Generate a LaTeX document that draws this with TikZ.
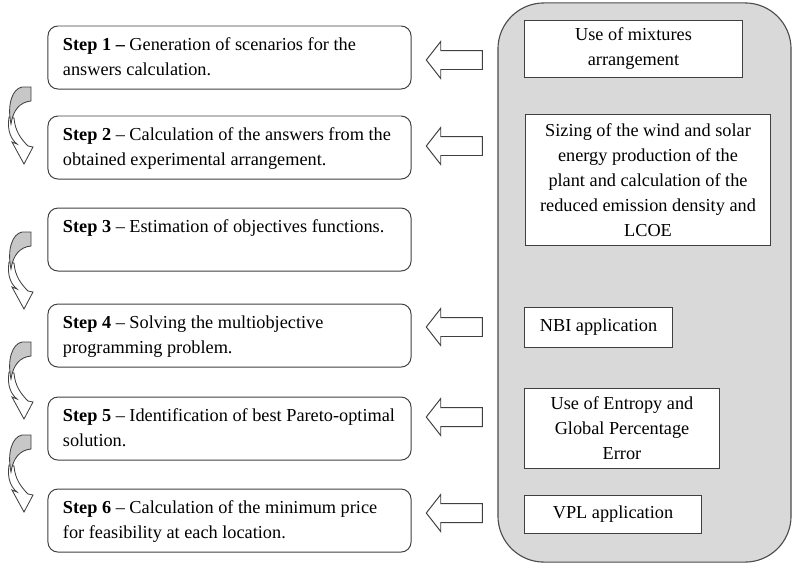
\documentclass[tikz,border=0pt]{standalone}
\usepackage{fontspec}
\setmainfont{Liberation Serif}
\usetikzlibrary{positioning, shapes.arrows}

\newcommand{\steptxt}[1]{\parbox[c][0.975cm][t]{8.325cm}{#1}}

\begin{document}
\begin{tikzpicture}[
    x=0.025cm, y=-0.025cm,
    font=\fontsize{13}{17.8}\selectfont,
    stepbox/.style={rectangle, rounded corners=0.25cm, draw=black!75, line width=0.7pt, fill=white, inner xsep=0.375cm, inner ysep=0.3cm},
    toolbox/.style={rectangle, draw=black!75, line width=0.7pt, fill=white, align=center, inner sep=0pt},
    panel/.style={rectangle, rounded corners=1.15cm, draw=black!70, line width=0.8pt, fill=black!15, minimum width=7.325cm, minimum height=13.975cm},
    feed/.style={single arrow, shape border rotate=180, draw=black!75, line width=0.7pt, fill=white, minimum height=1.4cm, inner xsep=0pt, inner ysep=0.225cm, single arrow head extend=0.225cm, single arrow tip angle=104},
    bendarrow/.pic={
        \filldraw[draw=black!75, line width=0.6pt, fill=white] (9,30) .. controls (7,44) and (11,52) .. (17,57) -- (12,55) -- (24,77) -- (33,60) -- (28,59) .. controls (21,52) and (15,44) .. (14,31) -- cycle;
        \filldraw[draw=black!75, line width=0.6pt, fill=black!22] (31,0) -- (31,14) .. controls (20,15) and (13,23) .. (11,37) .. controls (7,18) and (12,2) .. (22,0) -- cycle;
    }
]
    \useasboundingbox (0,0) rectangle (800,568);

    % right panel with the tools
    \node[panel] (panel) at (644.5,282.5) {};
    \node[toolbox, minimum width=5.425cm, minimum height=1.425cm] (mix) at (633.5,48.5) {Use of mixtures\\arrangement};
    \node[toolbox, minimum width=6.1cm, minimum height=3.25cm] (sizing) at (648,180) {Sizing of the wind and solar\\energy production of the\\plant and calculation of the\\reduced emission density and\\LCOE};
    \node[toolbox, minimum width=3.675cm, minimum height=1cm] (nbi) at (598.5,327) {NBI application};
    \node[toolbox, minimum width=4.85cm, minimum height=2cm] (entropy) at (622,428) {Use of Entropy and\\Global Percentage\\Error};
    \node[toolbox, minimum width=4.4cm, minimum height=0.95cm] (vpl) at (613,514) {VPL application};

    % steps
    \node[stepbox] (s1) at (229.5,57.5) {\steptxt{\textbf{Step 1 –} Generation of scenarios for the\\answers calculation.}};
    \node[stepbox, below=0.65cm of s1] (s2) {\steptxt{\textbf{Step 2} – Calculation of the answers from the\\obtained experimental arrangement.}};
    \node[stepbox, below=0.7cm of s2] (s3) {\steptxt{\textbf{Step 3} – Estimation of objectives functions.}};
    \node[stepbox, below=0.8cm of s3] (s4) {\steptxt{\textbf{Step 4} – Solving the multiobjective\\programming problem.}};
    \node[stepbox, below=0.725cm of s4] (s5) {\steptxt{\textbf{Step 5} – Identification of best Pareto-optimal\\solution.}};
    \node[stepbox, below=0.7cm of s5] (s6) {\steptxt{\textbf{Step 6} – Calculation of the minimum price\\for feasibility at each location.}};

    % block arrows from the panel to the steps
    \node[feed] (a1) at (458,60) {};
    \node[feed] (a2) at (458,146) {};
    \node[feed] (a4) at (458,327) {};
    \node[feed] (a5) at (458,417) {};
    \node[feed] (a6) at (458,513) {};

    % curved arrows between steps
    \pic at (0,87) {bendarrow};
    \pic at (0,232) {bendarrow};
    \pic at (0,342) {bendarrow};
    \pic at (0,435) {bendarrow};
\end{tikzpicture}
\end{document}
